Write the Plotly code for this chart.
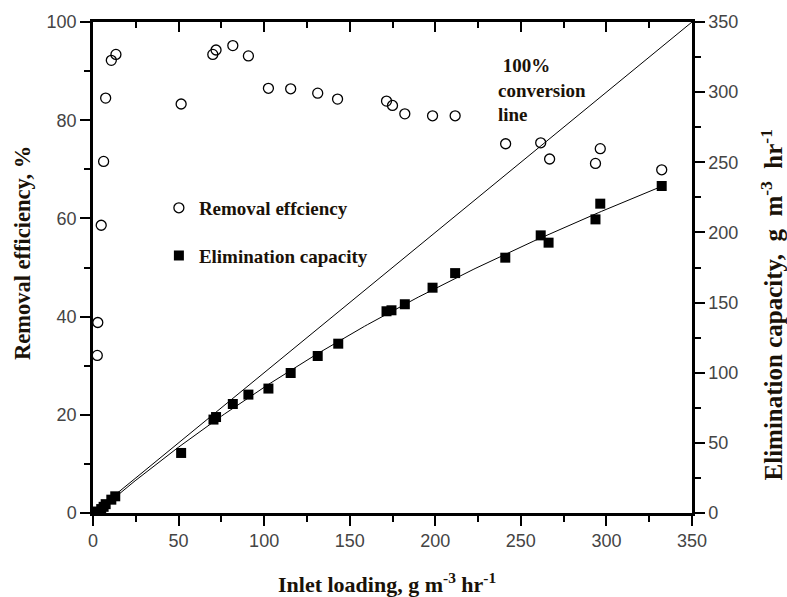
import numpy as np
import plotly.graph_objects as go

# Removal efficiency (%) vs inlet loading
re_load = [2.5, 2.8, 4.8, 6.2, 7.4, 10.7, 13.4, 51.5, 70.0, 71.9, 81.7, 90.8, 102.5, 115.5,
           131.3, 142.9, 171.5, 175.0, 182.2, 198.4, 211.6, 241.1, 261.6, 266.8, 293.6, 296.4, 332.3]
re_val = [32.1, 38.8, 58.6, 71.6, 84.5, 92.2, 93.4, 83.3, 93.4, 94.3, 95.2, 93.1, 86.5, 86.4,
          85.5, 84.3, 83.9, 83.0, 81.3, 80.9, 80.9, 75.2, 75.4, 72.1, 71.2, 74.2, 69.9]

# Elimination capacity (g m-3 hr-1) vs inlet loading
ec_load = [2.5, 2.8, 4.8, 6.2, 7.4, 10.7, 13.0, 51.5, 70.4, 71.9, 81.7, 90.8, 102.5, 115.5,
           131.3, 143.3, 171.5, 174.4, 182.2, 198.4, 211.6, 240.9, 261.6, 266.2, 293.6, 296.4, 332.3]
ec_val = [0.8, 1.0, 2.8, 4.4, 6.3, 9.5, 11.9, 42.8, 66.6, 68.4, 77.7, 84.4, 88.7, 99.8,
          111.9, 120.7, 143.8, 144.5, 148.8, 160.6, 171.0, 182.0, 197.9, 192.7, 209.3, 220.5, 233.1]

conv_line = [0, 350]

coef = np.polyfit(ec_load, ec_val, 3)
fit_x = np.linspace(0, max(ec_load), 200)
fit_y = np.polyval(coef, fit_x)

serif = "Liberation Serif"
sans = "Liberation Sans"
tick_font = dict(family=sans, size=18, color="#444444")
title_col = "#1a1208"

fig = go.Figure()
fig.add_trace(go.Scatter(x=conv_line, y=conv_line, mode="lines", xaxis="x2", yaxis="y2",
                         line=dict(color="black", width=1), showlegend=False, hoverinfo="skip"))
fig.add_trace(go.Scatter(x=fit_x, y=fit_y, mode="lines", yaxis="y2",
                         line=dict(color="black", width=1), showlegend=False, hoverinfo="skip"))
fig.add_trace(go.Scatter(x=re_load, y=re_val, mode="markers", name="<b>Removal effciency</b>",
                         legendgroup="a",
                         marker=dict(symbol="circle-open", size=10, color="black",
                                     line=dict(width=1.3, color="black"))))
fig.add_trace(go.Scatter(x=ec_load, y=ec_val, mode="markers", yaxis="y2", name="<b>Elimination capacity</b>",
                         legendgroup="b",
                         marker=dict(symbol="square", size=10, color="black")))

axis_common = dict(showgrid=False, zeroline=False, showline=True, linecolor="black", linewidth=2.5,
                   ticks="outside", tickcolor="black", tickwidth=2, ticklen=10, tickfont=tick_font)

fig.update_layout(
    width=787, height=597,
    margin=dict(l=93, r=95, t=22, b=84),
    paper_bgcolor="white", plot_bgcolor="white",
    xaxis=dict(range=[0, 350], dtick=50, minor=dict(dtick=25, ticks="outside", ticklen=6,
                                                    tickcolor="black", tickwidth=2),
               **axis_common),
    xaxis2=dict(range=[0, 350], overlaying="x", side="top", showgrid=False, zeroline=False,
                showline=True, linecolor="black", linewidth=2.5, ticks="inside", tickcolor="black",
                tickwidth=2, ticklen=10, dtick=50, showticklabels=False,
                minor=dict(dtick=25, ticks="inside", ticklen=6, tickcolor="black", tickwidth=2)),
    yaxis=dict(range=[0, 100], dtick=20, minor=dict(dtick=10, ticks="outside", ticklen=6,
                                                    tickcolor="black", tickwidth=2),
               **axis_common),
    yaxis2=dict(range=[0, 350], dtick=50, overlaying="y", side="right",
                minor=dict(dtick=25, ticks="outside", ticklen=6, tickcolor="black", tickwidth=2),
                **axis_common),
    legend=dict(x=0.11, y=0.66, xanchor="left", yanchor="top", bgcolor="rgba(0,0,0,0)",
                font=dict(family=serif, size=19, color=title_col), traceorder="grouped",
                tracegroupgap=20),
    showlegend=True,
)

fig.add_annotation(text="<b>Inlet loading, g m<sup>-3</sup> hr<sup>-1</sup></b>", xref="paper", yref="paper",
                   x=0.49, y=-0.143, xanchor="center", yanchor="middle", showarrow=False,
                   font=dict(family=serif, size=22, color=title_col))
fig.add_annotation(text="<b>Removal efficiency, %</b>", xref="paper", yref="paper",
                   x=-0.118, y=0.53, xanchor="center", yanchor="middle", textangle=-90, showarrow=False,
                   font=dict(family=serif, size=22.5, color=title_col))
fig.add_annotation(text="<b>Elimination capacity,  g  m<sup>-3</sup>  hr<sup>-1</sup></b>", xref="paper", yref="paper",
                   x=1.133, y=0.424, xanchor="center", yanchor="middle", textangle=-90, showarrow=False,
                   font=dict(family=serif, size=25, color=title_col))
fig.add_annotation(text="<b> 100%<br>conversion<br>line</b>", xref="paper", yref="paper",
                   x=0.672, y=0.936, xanchor="left", yanchor="top", align="left", showarrow=False,
                   font=dict(family=serif, size=19, color=title_col))

fig.write_html("out.html")
